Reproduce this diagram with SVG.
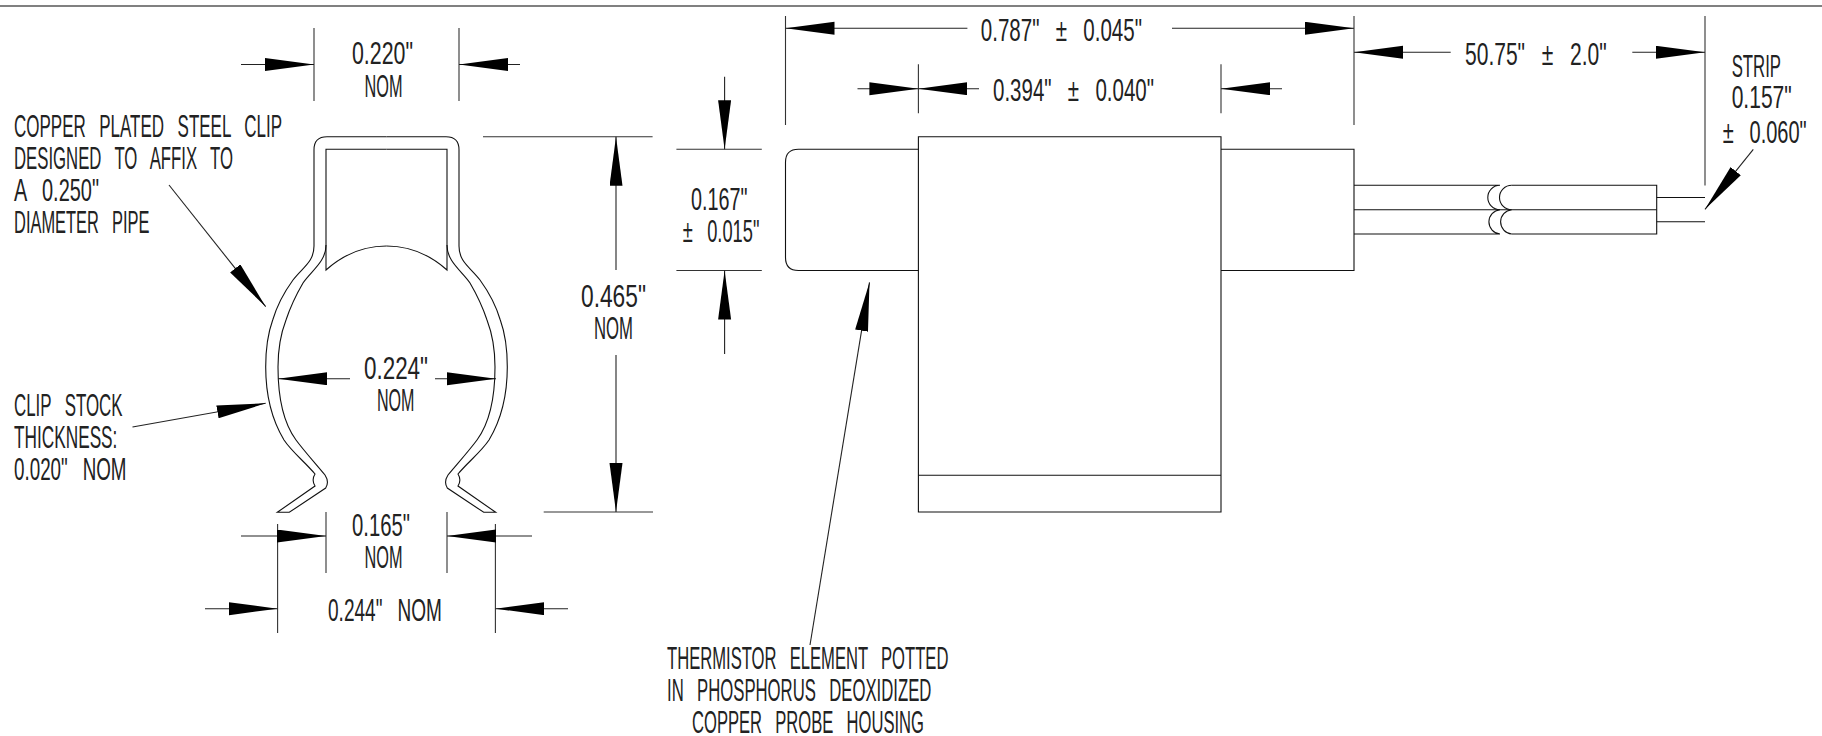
<svg xmlns="http://www.w3.org/2000/svg" width="1822" height="736" viewBox="0 0 1822 736">
<style>
text{font-family:"Liberation Sans",Arial,sans-serif;font-size:31px;fill:#222;white-space:pre;word-spacing:16px}
.l{fill:none;stroke:#111;stroke-width:1.1}
.d{fill:none;stroke:#222;stroke-width:1.1;marker-end:url(#a)}
.e{fill:none;stroke:#333;stroke-width:1.1}
</style>
<defs>
<marker id="a" markerUnits="userSpaceOnUse" markerWidth="50" markerHeight="14" refX="49" refY="6.5" orient="auto"><path d="M0 0L49 6.500L0 13Z" fill="#000"/></marker>
<g id="half">
<path class="l" d="M386.500 136.700H327Q314 136.700 314 149.700V246C314 262 303 267 293 280C285 291 277.500 304 272.700 320C268 333 265.700 348 265.700 367C265.700 395 272 420 284 440C292 452 305 462 315 474C312.500 478 312.500 482 315 486L277.300 512.300H289.300L325.700 488Q329.500 482 325 475C315 463 305 452 296 440C285 425 278 400 278 367C278 348 281 333 286 320C291 305 296 295 303 283C311 271 326 262 326 245V149.300H386.500"/>
<path class="l" d="M326 245V270C345 253 365 246 386.500 246"/>
</g>
</defs>
<rect width="1822" height="736" fill="#fff"/>
<line x1="0" y1="6" x2="1822" y2="6" stroke="#808080" stroke-width="2"/>
<g id="clip">
<use href="#half"/>
<use href="#half" transform="matrix(-1 0 0 1 773 0)"/>
</g>
<g id="probe">
<path class="l" d="M918.400 136.700H1221V512H918.400Z"/>
<path class="l" d="M918.400 475.300H1221"/>
<path class="l" d="M918.400 149.300H798.500Q785.500 149.300 785.500 162.300V257.500Q785.500 270.500 798.500 270.500H918.400"/>
<path class="l" d="M1221 149.300H1354V270.500H1221"/>
</g>
<g id="leads">
<path class="l" d="M1354 185.300H1500A12.200 12.200 0 0 0 1500 209.700A12.200 12.200 0 0 0 1500 234H1354"/>
<path class="l" d="M1354 209.700H1656.700"/>
<path class="l" d="M1511.700 185.300A12.200 12.200 0 0 0 1511.700 209.700A12.200 12.200 0 0 0 1511.700 234"/>
<path class="l" d="M1511.700 185.300H1656.700V234H1511.700"/>
<path class="l" d="M1656.700 197.500H1705M1656.700 221.700H1705"/>
</g>
<g id="connectors">
<path class="e" d="M314 28V101M459 28V101M326 512V573M447 512V573M277.600 524V633M495.400 524V633M483 136.700H652.600M543.700 512H653M676.400 149.300H761.800M676.400 270.500H761.800M785.500 16V125M1354 16V125M918.400 64.300V113.300M1221 64.300V113.300M1705 16V185.500"/>
<line class="d" x1="241" y1="64.500" x2="314" y2="64.500"/>
<line class="d" x1="520" y1="64.500" x2="459" y2="64.500"/>
<line class="d" x1="169" y1="185" x2="265.700" y2="306.700"/>
<line class="d" x1="350" y1="378.700" x2="278" y2="378.700"/>
<line class="d" x1="435" y1="378.700" x2="496" y2="378.700"/>
<line class="d" x1="132.500" y1="427" x2="265.700" y2="403.300"/>
<line class="d" x1="241" y1="536" x2="326" y2="536"/>
<line class="d" x1="532" y1="536" x2="447" y2="536"/>
<line class="d" x1="205" y1="608.700" x2="277.600" y2="608.700"/>
<line class="d" x1="568" y1="608.700" x2="495.400" y2="608.700"/>
<line class="d" x1="616" y1="270" x2="616" y2="136.700"/>
<line class="d" x1="616" y1="355" x2="616" y2="512"/>
<line class="d" x1="724.600" y1="76.700" x2="724.600" y2="149.300"/>
<line class="d" x1="724.600" y1="354" x2="724.600" y2="270.500"/>
<line class="d" x1="967.400" y1="28.300" x2="785.500" y2="28.300"/>
<line class="d" x1="1172" y1="28.300" x2="1354" y2="28.300"/>
<line class="d" x1="857.500" y1="88.700" x2="918.400" y2="88.700"/>
<line class="d" x1="979" y1="88.700" x2="918.400" y2="88.700"/>
<line class="d" x1="1282" y1="88.700" x2="1221" y2="88.700"/>
<line class="d" x1="1450.700" y1="52.300" x2="1354" y2="52.300"/>
<line class="d" x1="1632.300" y1="52.300" x2="1705" y2="52.300"/>
<line class="d" x1="1753.300" y1="149.300" x2="1705" y2="209.300"/>
<line class="d" x1="810" y1="645" x2="869.500" y2="282.300"/>
</g>
<g id="labels">
<text x="352" y="64" textLength="61" lengthAdjust="spacingAndGlyphs">0.220"</text>
<text x="364.500" y="97" textLength="38" lengthAdjust="spacingAndGlyphs">NOM</text>
<text x="14" y="137" textLength="268" lengthAdjust="spacingAndGlyphs">COPPER PLATED STEEL CLIP</text>
<text x="14" y="169" textLength="219" lengthAdjust="spacingAndGlyphs">DESIGNED TO AFFIX TO</text>
<text x="14" y="201" textLength="85" lengthAdjust="spacingAndGlyphs">A 0.250"</text>
<text x="14" y="233" textLength="135.500" lengthAdjust="spacingAndGlyphs">DIAMETER PIPE</text>
<text x="364" y="379" textLength="64" lengthAdjust="spacingAndGlyphs">0.224"</text>
<text x="377" y="411" textLength="37.500" lengthAdjust="spacingAndGlyphs">NOM</text>
<text x="14" y="415.500" textLength="108.600" lengthAdjust="spacingAndGlyphs">CLIP STOCK</text>
<text x="14" y="447.700" textLength="103.400" lengthAdjust="spacingAndGlyphs">THICKNESS:</text>
<text x="14" y="479.800" textLength="112.500" lengthAdjust="spacingAndGlyphs">0.020" NOM</text>
<text x="352" y="536" textLength="58" lengthAdjust="spacingAndGlyphs">0.165"</text>
<text x="364.500" y="568" textLength="38" lengthAdjust="spacingAndGlyphs">NOM</text>
<text x="328" y="621" textLength="114" lengthAdjust="spacingAndGlyphs">0.244" NOM</text>
<text x="581" y="307" textLength="65" lengthAdjust="spacingAndGlyphs">0.465"</text>
<text x="594" y="339" textLength="39" lengthAdjust="spacingAndGlyphs">NOM</text>
<text x="691" y="210" textLength="56.500" lengthAdjust="spacingAndGlyphs">0.167"</text>
<text x="682.700" y="241.700" textLength="76.700" lengthAdjust="spacingAndGlyphs">± 0.015"</text>
<text x="980.800" y="40.700" textLength="161.200" lengthAdjust="spacingAndGlyphs">0.787" ± 0.045"</text>
<text x="993" y="100.700" textLength="161" lengthAdjust="spacingAndGlyphs">0.394" ± 0.040"</text>
<text x="1465" y="65" textLength="141.700" lengthAdjust="spacingAndGlyphs">50.75" ± 2.0"</text>
<text x="1731.700" y="76.700" textLength="49.300" lengthAdjust="spacingAndGlyphs">STRIP</text>
<text x="1731.700" y="108.300" textLength="60" lengthAdjust="spacingAndGlyphs">0.157"</text>
<text x="1722.700" y="142.700" textLength="84" lengthAdjust="spacingAndGlyphs">± 0.060"</text>
<text x="667" y="669.300" textLength="281.400" lengthAdjust="spacingAndGlyphs">THERMISTOR ELEMENT POTTED</text>
<text x="667" y="701.300" textLength="264.400" lengthAdjust="spacingAndGlyphs">IN PHOSPHORUS DEOXIDIZED</text>
<text x="692" y="733" textLength="232" lengthAdjust="spacingAndGlyphs">COPPER PROBE HOUSING</text>
</g>
</svg>
